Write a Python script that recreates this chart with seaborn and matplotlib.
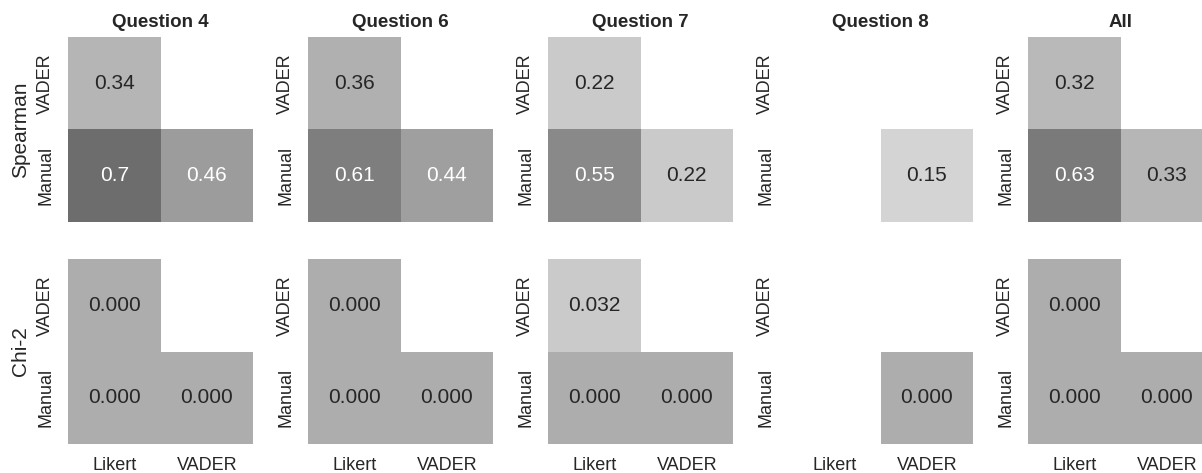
import numpy as np
import pandas as pd
import matplotlib
matplotlib.use("Agg")
import matplotlib.pyplot as plt
import seaborn as sns

sns.set_theme(style="white")
plt.rcParams['font.family'] = ['Liberation Sans', 'DejaVu Sans']

# data ----------------------------------------------------------------
x_labels = ["Likert", "VADER"]
y_labels = ["VADER", "Manual"]
titles = ["Question 4", "Question 6", "Question 7", "Question 8", "All"]

nan = np.nan
# rows: VADER, Manual / cols: Likert, VADER
spearman_q4 = [[0.34, nan], [0.70, 0.46]]
spearman_q6 = [[0.36, nan], [0.61, 0.44]]
spearman_q7 = [[0.22, nan], [0.55, 0.22]]
spearman_q8 = [[nan, nan], [nan, 0.15]]
spearman_all = [[0.32, nan], [0.63, 0.33]]

chi2_q4 = [[0.000, nan], [0.000, 0.000]]
chi2_q6 = [[0.000, nan], [0.000, 0.000]]
chi2_q7 = [[0.032, nan], [0.000, 0.000]]
chi2_q8 = [[nan, nan], [nan, 0.000]]
chi2_all = [[0.000, nan], [0.000, 0.000]]

spearman = [spearman_q4, spearman_q6, spearman_q7, spearman_q8, spearman_all]
chi2 = [chi2_q4, chi2_q6, chi2_q7, chi2_q8, chi2_all]

# figure ----------------------------------------------------------------
W, H = 1202, 473
fig = plt.figure(figsize=(W / 100, H / 100), dpi=100)

mask = np.triu(np.ones((2, 2), dtype=bool), k=1)
size = 185
lefts = [68, 308, 548, 788, 1028]
tops = [37, 259]

rows = [
    ("Spearman", spearman, "Greys", -0.25, 1.22, ".2g"),
    ("Chi-2", chi2, "Greys_r", -0.168, 0.126, ".3f"),
]

for r, (row_name, mats, cmap, vmin, vmax, fmt) in enumerate(rows):
    for c, m in enumerate(mats):
        ax = fig.add_axes([lefts[c] / W, (H - tops[r] - size) / H, size / W, size / H])
        df = pd.DataFrame(m, index=y_labels, columns=x_labels)
        sns.heatmap(df, mask=mask, cmap=cmap, vmin=vmin, vmax=vmax, annot=True,
                    fmt=fmt, cbar=False, ax=ax,
                    annot_kws={"fontsize": 15})
        ax.tick_params(length=0)
        ax.set_yticklabels(y_labels, rotation=90, va="center", fontsize=13)
        ax.tick_params(axis="y", pad=10)
        if r == 1:
            ax.set_xticklabels(x_labels, rotation=0, fontsize=13)
            ax.tick_params(axis="x", pad=9)
        else:
            ax.set_xticklabels([])
            ax.set_title(titles[c], fontsize=13.5, fontweight="bold", pad=7)
        if c == 0:
            ax.set_ylabel(row_name, fontsize=15, labelpad=5)
        else:
            ax.set_ylabel("")
        ax.set_xlabel("")

fig.savefig("out.png", dpi=100)
